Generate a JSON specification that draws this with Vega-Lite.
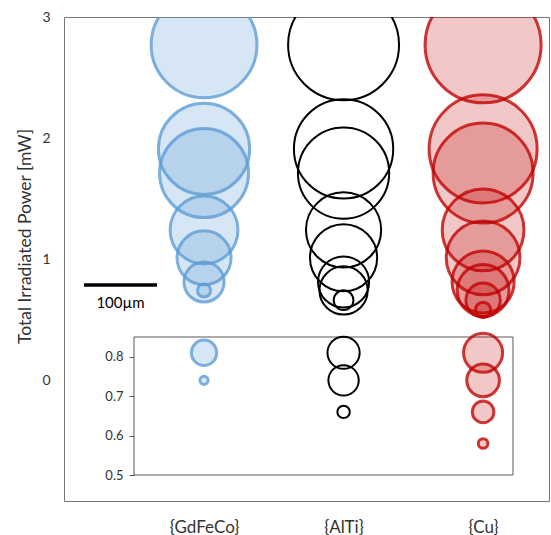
{
  "$schema": "https://vega.github.io/schema/vega-lite/v6.json",
  "width": 485,
  "height": 484,
  "autosize": {"type": "none"},
  "padding": {"left": 64, "top": 17, "right": 2, "bottom": 34},
  "background": "white",
  "config": {
    "view": {"stroke": "#767676", "strokeWidth": 1},
    "font": "Lato",
    "axis": {"grid": false, "labelColor": "#333333", "titleColor": "#333333", "labelFont": "Lato", "titleFont": "Lato", "titleFontWeight": "normal"}
  },
  "datasets": {
    "spots": [
      {"material": "GdFeCo", "power": 2.77, "diameter": 145},
      {"material": "GdFeCo", "power": 1.91, "diameter": 125},
      {"material": "GdFeCo", "power": 1.71, "diameter": 122},
      {"material": "GdFeCo", "power": 1.24, "diameter": 93},
      {"material": "GdFeCo", "power": 1.01, "diameter": 74},
      {"material": "GdFeCo", "power": 0.81, "diameter": 55},
      {"material": "GdFeCo", "power": 0.74, "diameter": 18},
      {"material": "AlTi", "power": 2.77, "diameter": 152},
      {"material": "AlTi", "power": 1.91, "diameter": 136},
      {"material": "AlTi", "power": 1.71, "diameter": 125},
      {"material": "AlTi", "power": 1.24, "diameter": 103},
      {"material": "AlTi", "power": 1.01, "diameter": 92},
      {"material": "AlTi", "power": 0.81, "diameter": 70},
      {"material": "AlTi", "power": 0.74, "diameter": 66},
      {"material": "AlTi", "power": 0.66, "diameter": 27},
      {"material": "Cu", "power": 2.77, "diameter": 159},
      {"material": "Cu", "power": 1.91, "diameter": 148},
      {"material": "Cu", "power": 1.71, "diameter": 137},
      {"material": "Cu", "power": 1.24, "diameter": 112},
      {"material": "Cu", "power": 1.01, "diameter": 101},
      {"material": "Cu", "power": 0.81, "diameter": 85},
      {"material": "Cu", "power": 0.74, "diameter": 71},
      {"material": "Cu", "power": 0.66, "diameter": 47},
      {"material": "Cu", "power": 0.58, "diameter": 21}
    ],
    "scalebar": [{"start": 27.4, "end": 127.4, "power": 0.785, "labelPower": 0.64, "mid": 77.4, "label": "100µm"}],
    "insetbox": [{"left": 0.5, "right": 3.207, "low": 0.5, "high": 0.85}]
  },
  "layer": [
    {
      "data": {"name": "spots"},
      "mark": {"type": "circle", "clip": true, "opacity": 1},
      "encoding": {
        "x": {"field": "material", "type": "nominal", "sort": null,
              "scale": {"type": "point", "domain": ["GdFeCo", "AlTi", "Cu"], "padding": 0.738, "align": 0.68},
              "axis": {"title": null, "ticks": false, "domain": false, "labelAngle": 0, "labelPadding": 18, "labelFontSize": 17, "labelExpr": "'{' + datum.label + '}'"}},
        "y": {"field": "power", "type": "quantitative",
              "scale": {"domain": [-1, 3], "nice": false, "zero": false},
              "axis": {"values": [0, 1, 2, 3], "ticks": false, "domain": false, "labelPadding": 14, "labelFontSize": 14,
                       "title": "Total Irradiated Power [mW]", "titleFontSize": 17.5, "titleX": -30, "titleY": 219, "titleBaseline": "bottom", "titleAngle": -90}},
        "size": {"field": "diameter", "type": "quantitative", "scale": {"type": "pow", "exponent": 2, "domain": [0, 100], "range": [0, 5329]}, "legend": null},
        "fill": {"field": "material", "type": "nominal", "scale": {"domain": ["GdFeCo", "AlTi", "Cu"], "range": ["rgba(91,155,213,0.25)", "rgba(0,0,0,0)", "rgba(192,0,0,0.22)"]}, "legend": null},
        "stroke": {"field": "material", "type": "nominal", "scale": {"domain": ["GdFeCo", "AlTi", "Cu"], "range": ["rgba(91,155,213,0.78)", "#000000", "rgba(192,0,0,0.78)"]}, "legend": null},
        "strokeWidth": {"condition": {"test": "datum.material === 'AlTi'", "value": 2}, "value": 3}
      }
    },
    {
      "data": {"name": "scalebar"},
      "mark": {"type": "rule", "color": "#000000", "strokeWidth": 3.5},
      "encoding": {
        "x": {"field": "start", "type": "quantitative", "scale": {"domain": [0, 664.4], "nice": false, "zero": false}, "axis": null},
        "x2": {"field": "end"},
        "y": {"field": "power", "type": "quantitative", "scale": {"domain": [-1, 3], "nice": false, "zero": false}, "axis": null}
      }
    },
    {
      "data": {"name": "scalebar"},
      "mark": {"type": "text", "fontSize": 15, "font": "Lato", "color": "#000000", "align": "center", "baseline": "middle"},
      "encoding": {
        "x": {"field": "mid", "type": "quantitative", "scale": {"domain": [0, 664.4], "nice": false, "zero": false}, "axis": null},
        "y": {"field": "labelPower", "type": "quantitative", "scale": {"domain": [-1, 3], "nice": false, "zero": false}, "axis": null},
        "text": {"field": "label"}
      }
    },
    {
      "data": {"name": "insetbox"},
      "mark": {"type": "rect", "fill": "white", "stroke": "#595959", "strokeWidth": 1},
      "encoding": {
        "x": {"field": "left", "type": "quantitative", "scale": {"domain": [0, 3.4643], "nice": false, "zero": false}, "axis": null},
        "x2": {"field": "right"},
        "y": {"field": "low", "type": "quantitative", "scale": {"domain": [0.5, 0.85], "range": [458, 320], "nice": false, "zero": false}, "axis": null},
        "y2": {"field": "high"}
      }
    },
    {
      "data": {"name": "spots"},
      "transform": [{"filter": "datum.power < 0.85"}],
      "mark": {"type": "circle", "clip": true, "opacity": 1},
      "encoding": {
        "x": {"field": "material", "type": "nominal", "sort": null,
              "scale": {"type": "point", "domain": ["GdFeCo", "AlTi", "Cu"], "padding": 0.738, "align": 0.68}, "axis": null},
        "y": {"field": "power", "type": "quantitative",
              "scale": {"domain": [0.5, 0.85], "range": [458, 320], "nice": false, "zero": false},
              "axis": {"orient": "left", "offset": -70, "values": [0.5, 0.6, 0.7, 0.8], "format": ".1f", "tickSize": 5, "tickColor": "#595959", "domainColor": "#595959", "labelFontSize": 13, "labelPadding": 6, "title": null}},
        "size": {"field": "diameter", "type": "quantitative", "scale": {"type": "pow", "exponent": 2, "domain": [0, 100], "range": [0, 2116]}, "legend": null},
        "fill": {"field": "material", "type": "nominal", "scale": {"domain": ["GdFeCo", "AlTi", "Cu"], "range": ["rgba(91,155,213,0.25)", "rgba(0,0,0,0)", "rgba(192,0,0,0.22)"]}, "legend": null},
        "stroke": {"field": "material", "type": "nominal", "scale": {"domain": ["GdFeCo", "AlTi", "Cu"], "range": ["rgba(91,155,213,0.78)", "#000000", "rgba(192,0,0,0.78)"]}, "legend": null},
        "strokeWidth": {"condition": {"test": "datum.material === 'AlTi'", "value": 2}, "value": 3}
      }
    }
  ],
  "resolve": {
    "scale": {"x": "independent", "y": "independent", "size": "independent"},
    "axis": {"x": "independent", "y": "independent"}
  }
}
